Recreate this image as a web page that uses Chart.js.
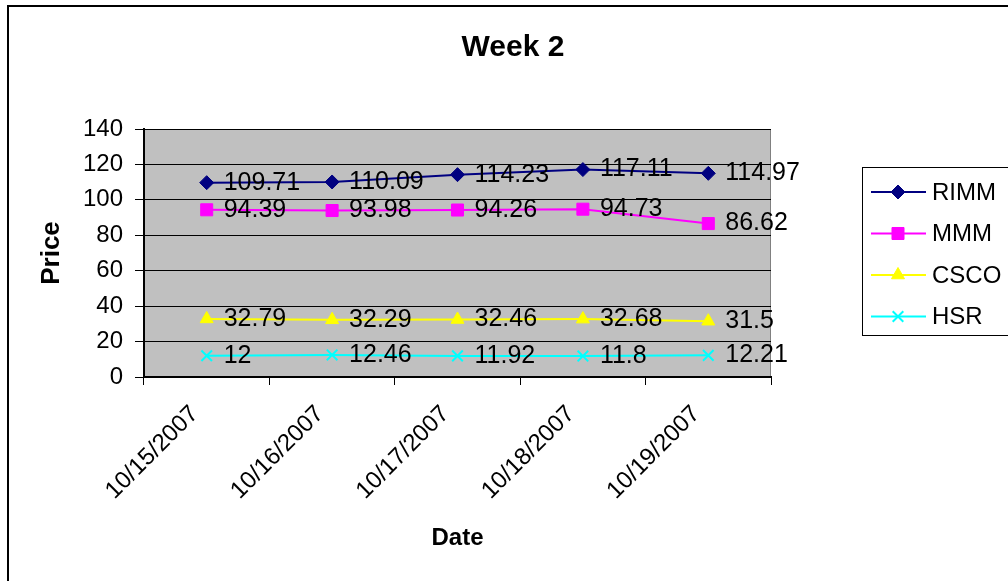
<!DOCTYPE html>
<html>
<head>
<meta charset="utf-8">
<title>Week 2</title>
<script src="https://cdn.jsdelivr.net/npm/chart.js@4.4.1/dist/chart.umd.min.js"></script>
<style>
  html, body { margin: 0; padding: 0; background: #ffffff; }
  #wrap { width: 1008px; height: 581px; }
</style>
</head>
<body>
<div id="wrap"><canvas id="chart" width="1008" height="581"></canvas></div>
<script>
// Closing prices for the week
const dates = ['10/15/2007', '10/16/2007', '10/17/2007', '10/18/2007', '10/19/2007'];
const rimm = [109.71, 110.09, 114.23, 117.11, 114.97];
const mmm  = [94.39, 93.98, 94.26, 94.73, 86.62];
const csco = [32.79, 32.29, 32.46, 32.68, 31.5];
const hsr  = [12, 12.46, 11.92, 11.8, 12.21];
const priceMin = 0, priceMax = 140, priceStep = 20;

const FONT = "'Liberation Sans', Arial, Helvetica, sans-serif";
Chart.defaults.font.family = FONT;
Chart.defaults.color = '#000000';

function series(label, data, color, style, radius, bw) {
  return {
    label, data,
    borderColor: color,
    backgroundColor: color,
    borderWidth: 2,
    pointStyle: style,
    pointRadius: radius,
    pointHoverRadius: radius,
    pointBorderWidth: bw,
    pointBackgroundColor: color,
    pointBorderColor: color,
    tension: 0,
    fill: false
  };
}

// Page frame and grey plot background
const framePlugin = {
  id: 'frame',
  beforeDraw(chart) {
    const ctx = chart.ctx;
    const a = chart.chartArea;
    ctx.save();
    ctx.fillStyle = '#ffffff';
    ctx.fillRect(0, 0, chart.width, chart.height);
    ctx.strokeStyle = '#000000';
    ctx.lineWidth = 2;
    ctx.strokeRect(8, 6, chart.width + 20, chart.height + 20);
    ctx.fillStyle = '#c0c0c0';
    ctx.fillRect(a.left, a.top, a.right - a.left, a.bottom - a.top);
    ctx.strokeStyle = '#808080';
    ctx.lineWidth = 1;
    ctx.beginPath();
    ctx.moveTo(a.left, a.top + 0.5);
    ctx.lineTo(a.right - 0.5, a.top + 0.5);
    ctx.lineTo(a.right - 0.5, a.bottom);
    ctx.stroke();
    ctx.restore();
  }
};

// Value labels to the right of every point
const valueLabels = {
  id: 'valueLabels',
  afterDatasetsDraw(chart) {
    const ctx = chart.ctx;
    ctx.save();
    ctx.font = '25px ' + FONT;
    ctx.fillStyle = '#000000';
    ctx.textAlign = 'left';
    ctx.textBaseline = 'middle';
    chart.data.datasets.forEach((ds, i) => {
      const meta = chart.getDatasetMeta(i);
      meta.data.forEach((pt, j) => {
        ctx.fillText(String(ds.data[j]), pt.x + 17, pt.y);
      });
    });
    ctx.restore();
  }
};

// Boxed legend at the right
const boxLegend = {
  id: 'boxLegend',
  afterDraw(chart) {
    const ctx = chart.ctx;
    const bx = 862, by = 167, bh = 168;
    const rowY = [192, 233.5, 275, 316.5];
    ctx.save();
    ctx.fillStyle = '#ffffff';
    ctx.fillRect(bx, by, chart.width - bx + 10, bh);
    ctx.strokeStyle = '#000000';
    ctx.lineWidth = 1;
    ctx.strokeRect(bx + 0.5, by + 0.5, chart.width - bx + 10, bh);
    chart.data.datasets.forEach((ds, i) => {
      const y = rowY[i];
      ctx.strokeStyle = ds.borderColor;
      ctx.fillStyle = ds.borderColor;
      ctx.lineWidth = 2;
      ctx.beginPath();
      ctx.moveTo(871, y);
      ctx.lineTo(926, y);
      ctx.stroke();
      ctx.lineWidth = ds.pointBorderWidth;
      Chart.helpers.drawPoint(ctx, {
        pointStyle: ds.pointStyle,
        radius: ds.pointRadius,
        rotation: 0,
        borderWidth: ds.pointBorderWidth
      }, 898, y);
      ctx.fillStyle = '#000000';
      ctx.font = '24px ' + FONT;
      ctx.textAlign = 'left';
      ctx.textBaseline = 'middle';
      ctx.fillText(ds.label, 932, y + 1);
    });
    ctx.restore();
  }
};

new Chart(document.getElementById('chart'), {
  type: 'line',
  data: {
    labels: dates,
    datasets: [
      series('RIMM', rimm, '#000080', 'rectRot', 7, 1),
      series('MMM', mmm, '#ff00ff', 'rect', 8.5, 1),
      series('CSCO', csco, '#ffff00', 'triangle', 7.5, 1),
      series('HSR', hsr, '#00ffff', 'crossRot', 7.5, 2)
    ]
  },
  options: {
    responsive: false,
    animation: false,
    events: [],
    layout: { padding: { left: 18, right: 0, top: 0, bottom: 0 } },
    plugins: {
      legend: { display: false },
      tooltip: { enabled: false },
      title: {
        display: true,
        text: 'Week 2',
        color: '#000000',
        font: { size: 30, weight: 'bold', lineHeight: 1.2 },
        padding: { top: 29.5, bottom: 63.5 }
      }
    },
    scales: {
      x: {
        type: 'category',
        offset: true,
        grid: {
          display: true,
          offset: true,
          drawOnChartArea: false,
          drawTicks: true,
          tickLength: 8,
          tickColor: '#000000',
          tickWidth: 1
        },
        border: { display: true, color: '#000000', width: 2 },
        ticks: {
          autoSkip: false,
          maxRotation: 45,
          minRotation: 45,
          padding: 15,
          labelOffset: -12,
          color: '#000000',
          font: { size: 24 }
        },
        title: {
          display: true,
          text: 'Date',
          color: '#000000',
          font: { size: 24, weight: 'bold', lineHeight: 1.2 },
          padding: { top: 0, bottom: 28.6 }
        },
        afterFit(scale) { scale.height = 204; }
      },
      y: {
        type: 'linear',
        position: 'left',
        min: priceMin,
        max: priceMax,
        ticks: {
          stepSize: priceStep,
          padding: 12,
          color: '#000000',
          font: { size: 24 }
        },
        grid: {
          color: '#000000',
          lineWidth: 1,
          drawTicks: true,
          tickLength: 9,
          tickColor: '#000000'
        },
        border: { display: true, color: '#000000', width: 2 },
        title: {
          display: true,
          text: 'Price',
          color: '#000000',
          font: { size: 26, weight: 'bold', lineHeight: 1.2 },
          padding: { top: 18, bottom: 0 }
        },
        afterFit(scale) { scale.width = 126; }
      },
      side: {
        type: 'linear',
        position: 'right',
        display: true,
        grid: { display: false },
        border: { display: false },
        ticks: { display: false },
        afterFit(scale) { scale.width = 237; }
      }
    }
  },
  plugins: [framePlugin, valueLabels, boxLegend]
});
</script>
</body>
</html>
